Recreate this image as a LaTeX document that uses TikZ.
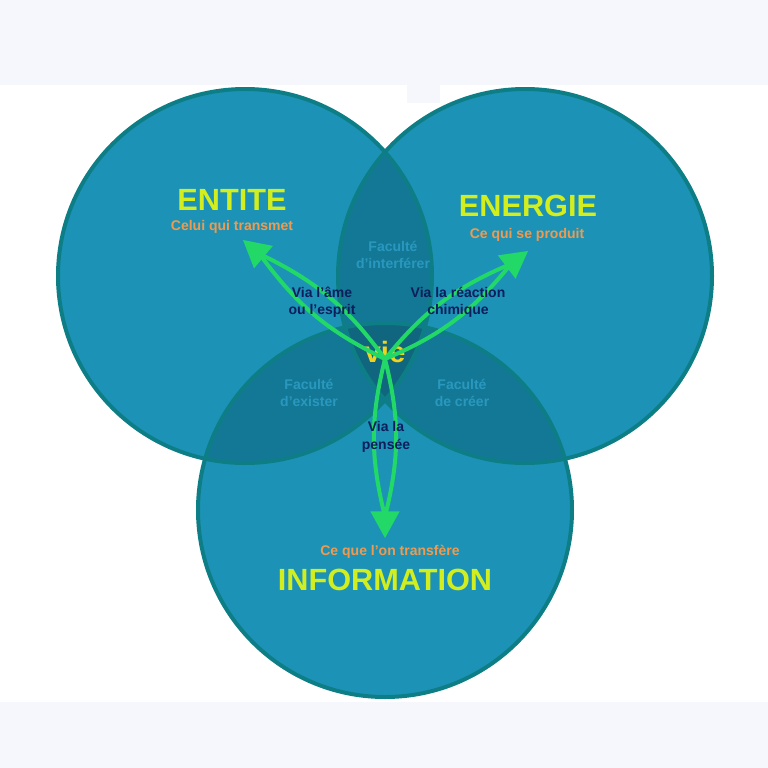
\documentclass[tikz,border=0pt]{standalone}
\usepackage{fontspec}
\setmainfont{Liberation Sans}
\usetikzlibrary{calc}
\definecolor{cbase}{HTML}{1C93B6}
\definecolor{cpair}{HTML}{137896}
\definecolor{ctrip}{HTML}{10667F}
\definecolor{cedge}{HTML}{0E7E86}
\definecolor{cgreen}{HTML}{22D866}
\definecolor{ctitle}{HTML}{D2EE1E}
\definecolor{csub}{HTML}{F09A50}
\definecolor{cfac}{HTML}{2A98BE}
\definecolor{cvia}{HTML}{0C1E5C}
\definecolor{cvie}{HTML}{F2D21B}
\definecolor{cstrip}{HTML}{F6F7FC}
\tikzset{every picture/.style={line width=0.75pt}}
\tikzset{
  titletext/.style={font=\bfseries\fontsize{23}{23}\selectfont,text=ctitle,inner sep=0.75pt},
  subtext/.style={font=\bfseries\fontsize{10.5}{11}\selectfont,text=csub,inner sep=0.75pt},
  factext/.style={font=\bfseries\fontsize{10.5}{13}\selectfont,text=cfac,align=center,inner sep=0.75pt},
  viatext/.style={font=\bfseries\fontsize{10.5}{13}\selectfont,text=cvia,align=center,inner sep=0.75pt},
  strand/.style={draw=cgreen,line width=3pt,line cap=round}
}
\newcommand{\arrowhead}[2]{%
  \fill[cgreen] (#2) -- ($($(#2)!20pt!(#1)$)!11pt!90:(#2)$) -- ($($(#2)!20pt!(#1)$)!11pt!-90:(#2)$) -- cycle;}
\begin{document}
\begin{tikzpicture}[x=0.75pt,y=0.75pt,yscale=-1,xscale=1]
\useasboundingbox (0,0) rectangle (768,768);
% background
\fill[white] (0,0) rectangle (768,768);
\fill[cstrip] (0,0) rectangle (768,85);
\fill[cstrip] (407,85) rectangle (440,103);
\fill[cstrip] (0,702) rectangle (768,768);
% circles
\coordinate (ent) at (245,276);
\coordinate (ene) at (525,276);
\coordinate (inf) at (385,510);
\fill[cbase] (ent) circle (187) (ene) circle (187) (inf) circle (187);
\begin{scope}
  \clip (ent) circle (187);
  \fill[cpair] (ene) circle (187) (inf) circle (187);
\end{scope}
\begin{scope}
  \clip (ene) circle (187);
  \fill[cpair] (inf) circle (187);
\end{scope}
\begin{scope}
  \clip (ent) circle (187);
  \clip (ene) circle (187);
  \fill[ctrip] (inf) circle (187);
\end{scope}
\draw[cedge,line width=3pt] (ent) circle (187) (ene) circle (187) (inf) circle (187);
% labels
\node[titletext] (entite) at (232,200) {ENTITE};
\node[subtext] (entsub) at (232,227) {Celui qui transmet};
\node[titletext] (energie) at (528,206) {ENERGIE};
\node[subtext] (enesub) at (527,235) {Ce qui se produit};
\node[subtext] (infsub) at (390,552) {Ce que l'on transfère};
\node[titletext] (information) at (385,580) {INFORMATION};
\node[factext] (fint) at (393,255) {Faculté\\d'interférer};
\node[factext] (fexi) at (309,393) {Faculté\\d'exister};
\node[factext] (fcre) at (462,393) {Faculté\\de créer};
% arrows
\coordinate (c) at (385,359);
\coordinate (tl) at (243,240);
\coordinate (tr) at (528,251);
\coordinate (tb) at (385,538);
\node[font=\bfseries\fontsize{22}{22}\selectfont,text=cvie,inner sep=0pt] (vie) at (385,352) {vie};
\foreach \t in {tl,tr,tb}{
  \coordinate (b) at ($(\t)!16pt!(c)$);
  \draw[strand] (c) to[bend left=14] (b);
  \draw[strand] (c) to[bend right=14] (b);
  \arrowhead{c}{\t}
}
\node[viatext] (vame) at (322,302) {Via l'âme\\ou l'esprit};
\node[viatext] (vrea) at (458,302) {Via la réaction\\chimique};
\node[viatext] (vpen) at (386,437) {Via la\\pensée};
\end{tikzpicture}
\end{document}
